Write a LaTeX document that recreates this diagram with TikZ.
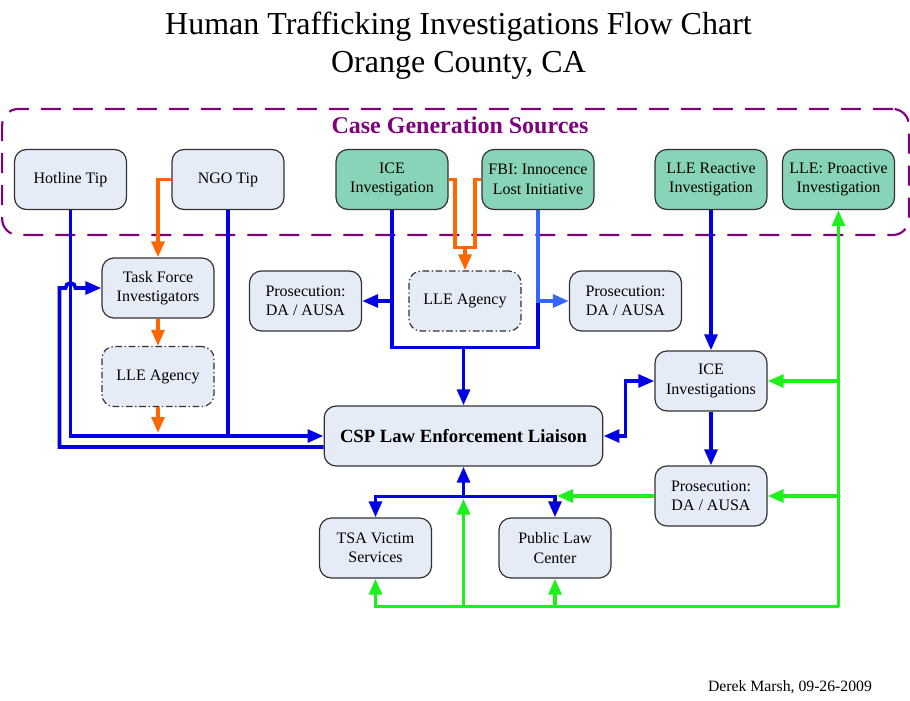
\documentclass[tikz,border=0pt]{standalone}
\usepackage{fontspec}
\setmainfont{Liberation Serif}
\usepackage{xcolor}
\usepackage{tikz}
\usetikzlibrary{arrows.meta, positioning, calc}
\definecolor{boxfill}{RGB}{230,236,247}
\definecolor{srcfill}{RGB}{136,212,184}
\definecolor{boxedge}{RGB}{50,50,50}
\definecolor{srcpurple}{RGB}{128,0,128}
\definecolor{flowblue}{RGB}{0,0,230}
\definecolor{fbiblue}{RGB}{51,102,255}
\definecolor{floworange}{RGB}{255,102,0}
\definecolor{flowgreen}{RGB}{30,240,30}

\begin{document}
\begin{tikzpicture}[
    x=0.75pt, y=-0.75pt,
    >={Triangle[length=12pt,width=9.5pt]},
    box/.style={rectangle, rounded corners=9pt, draw=boxedge, line width=0.9pt, fill=boxfill, minimum width=84pt, minimum height=45pt, align=center, inner sep=2pt, font=\fontsize{12}{14.5}\selectfont},
    srcbox/.style={box, fill=srcfill},
    agency/.style={box, dash pattern=on 5pt off 2pt on 1pt off 2pt},
    flow/.style={line width=2.8pt},
    blueline/.style={flow, ->, draw=flowblue},
    fbiline/.style={flow, ->, draw=fbiblue},
    orangeline/.style={flow, ->, draw=floworange},
    greenline/.style={flow, ->, draw=flowgreen}
]
    \useasboundingbox (0,0) rectangle (910,700);

    \node[align=center, inner sep=0pt, font=\fontsize{24}{28.5}\selectfont] (title) at (458.5,45.6) {Human Trafficking Investigations Flow Chart\\Orange County, CA};
    \node[draw=srcpurple, line width=1.6pt, dash pattern=on 15pt off 9pt, rounded corners=12pt, minimum width=680pt, minimum height=94.5pt] (sources) at (455.5,172) {};
    \node[anchor=base, text=srcpurple, font=\fontsize{18}{20}\selectfont\bfseries] (srctitle) at (460,133) {Case Generation Sources};

    \node[box] (hotline) at (70.5,179.5) {Hotline Tip};
    \node[box] (ngo) at (228,179.5) {NGO Tip};
    \node[srcbox] (iceinv) at (392,179.5) {ICE\\Investigation};
    \node[srcbox] (fbi) at (538,179.5) {FBI: Innocence\\Lost Initiative};
    \node[srcbox] (reactive) at (711,179.5) {LLE Reactive\\Investigation};
    \node[srcbox] (proactive) at (838.5,179.5) {LLE: Proactive\\Investigation};
    \node[box] (taskforce) at (158,288) {Task Force\\Investigators};
    \node[agency] (llea) at (158,376.5) {LLE Agency};
    \node[box] (prosa) at (305.5,301) {Prosecution:\\DA / AUSA};
    \node[agency] (lleb) at (465,301) {LLE Agency};
    \node[box] (prosb) at (625.5,301) {Prosecution:\\DA / AUSA};
    \node[box] (iceinvs) at (711,381) {ICE\\Investigations};
    \node[box, minimum width=209pt, font=\fontsize{14}{16}\selectfont\bfseries] (csp) at (463.5,436) {CSP Law Enforcement Liaison};
    \node[box] (prosc) at (711,496) {Prosecution:\\DA / AUSA};
    \node[box] (tsa) at (375.5,548) {TSA Victim\\Services};
    \node[box] (plc) at (555,548) {Public Law\\Center};
    \node[anchor=base, font=\fontsize{11.8}{14}\selectfont] (credit) at (790,691) {Derek Marsh, 09-26-2009};

    \coordinate (merge) at ($(csp.north)+(0,-58)$);
    \coordinate (ojoin) at ($(lleb.north)+(0,-23)$);
    \coordinate (hub) at ($(csp.south)+(0,30)$);
    \coordinate (gcorner) at ($(proactive.south |- plc.south)+(0,28)$);

    \draw[blueline] (hotline) |- (csp);
    \draw[blueline, -] (ngo) -- (ngo |- csp);
    \draw[blueline] ($(csp.west)+(0,11)$) -| ($(taskforce.west)+(-42,0)$) -- ($(hotline.south |- taskforce.west)+(-5,0)$) arc[start angle=180, end angle=0, radius=3.75pt] -- (taskforce.west);
    \draw[blueline, -] (iceinv) |- (merge) -| (fbi.south |- prosb.west);
    \draw[blueline] (merge) -- (csp.north);
    \draw[blueline] (iceinv.south |- prosa.east) -- (prosa.east);
    \draw[fbiline] (fbi) |- (prosb);
    \draw[blueline] (reactive) -- (iceinvs);
    \draw[blueline] (iceinvs) -- (prosc);
    \draw[blueline, <->] (csp.east) -- ++(22,0) |- (iceinvs.west);
    \draw[blueline] (hub) -- (csp);
    \draw[blueline] (hub) -| (tsa);
    \draw[blueline] (hub) -| (plc);

    \draw[orangeline] (ngo.west) -| (taskforce.north);
    \draw[orangeline] (taskforce) -- (llea);
    \draw[orangeline] (llea.south) -- ($(llea.south |- csp.west)+(0,-3)$);
    \draw[orangeline, -] (iceinv.east) -| ($(ojoin)+(-10,0)$) -- ($(ojoin)+(10,0)$) |- (fbi.west);
    \draw[orangeline] (ojoin) -- (lleb);

    \draw[greenline] (gcorner) -- (proactive);
    \draw[greenline] (proactive.south |- iceinvs.east) -- (iceinvs.east);
    \draw[greenline] (proactive.south |- prosc.east) -- (prosc.east);
    \draw[greenline] (gcorner) -| (tsa);
    \draw[greenline] (plc.south |- gcorner) -- (plc);
    \draw[greenline] (csp.south |- gcorner) -- ($(hub)+(0,2)$);
    \draw[greenline] (prosc.west) -- ($(prosc.west -| plc.north)+(2,0)$);
\end{tikzpicture}
\end{document}
